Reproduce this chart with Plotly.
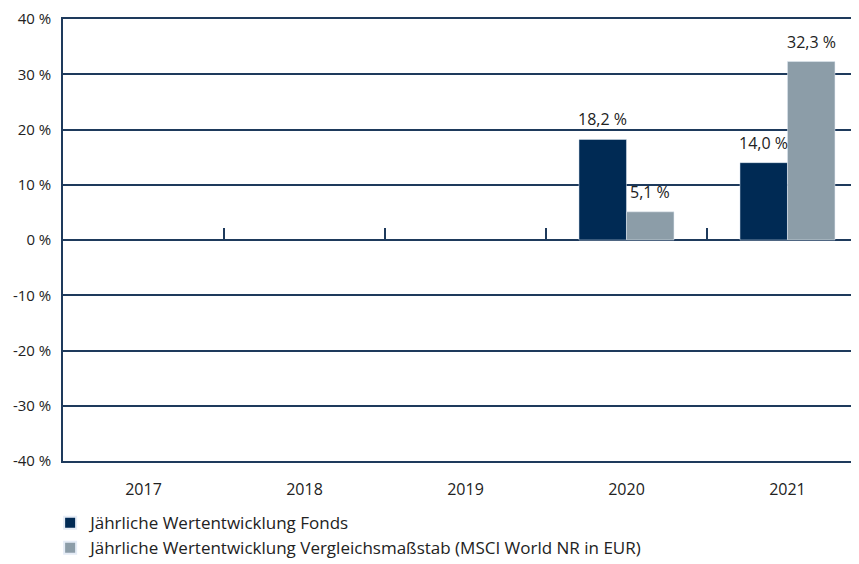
import plotly.graph_objects as go

years = ["2017", "2018", "2019", "2020", "2021"]
fonds = [None, None, None, 18.2, 14.0]
benchmark = [None, None, None, 5.1, 32.3]
tick_vals = [40, 30, 20, 10, 0, -10, -20, -30, -40]
tick_text = ["40 %", "30 %", "20 %", "10 %", "0 %", "-10 %", "-20 %", "-30 %", "-40 %"]
name_fonds = "Jährliche Wertentwicklung Fonds"
name_bench = "Jährliche Wertentwicklung Vergleichsmaßstab (MSCI World NR in EUR)"


def fmt(v):
    return f"{v:.1f}".replace(".", ",") + " %"


NAVY = "#002a54"
GREY = "#8c9da8"
LINE = "#1e3a5c"
FONT = "Open Sans"
BAR_HALF_PX = 23.7

fig = go.Figure()
fig.add_trace(go.Bar(x=years, y=fonds, name=name_fonds, marker_color=NAVY))
fig.add_trace(go.Bar(x=years, y=benchmark, name=name_bench, marker_color=GREY))
fig.add_trace(go.Scatter(x=years, y=[0] * len(years), mode="none", xaxis="x2",
                         showlegend=False, hoverinfo="skip"))

for series, shift in ((fonds, -BAR_HALF_PX), (benchmark, BAR_HALF_PX)):
    for idx, v in enumerate(series):
        if v is None:
            continue
        fig.add_annotation(x=idx, y=v, xref="x", yref="y", text=fmt(v),
                           showarrow=False, xshift=shift, yshift=7,
                           yanchor="bottom", font=dict(size=16, color="#222"))

fig.update_layout(
    width=859, height=564,
    margin=dict(l=55, r=0, t=11, b=111, autoexpand=False),
    paper_bgcolor="white", plot_bgcolor="white",
    font=dict(family=FONT, size=16, color="#222"),
    barmode="group", bargap=0.41, bargroupgap=0,
    xaxis=dict(type="category", categoryarray=years, range=[-0.5, 4.494],
               showgrid=False, showline=True, mirror=True, linecolor=LINE,
               linewidth=1.5, ticks="", zeroline=False, automargin=False,
               tickfont=dict(size=16), ticklabelstandoff=13),
    xaxis2=dict(type="category", matches="x", overlaying="x", anchor="free",
                position=0.5, side="bottom", showticklabels=False,
                ticks="inside", tickson="boundaries", ticklen=12,
                tickwidth=1.5, tickcolor=LINE, showline=False, showgrid=False,
                zeroline=False),
    yaxis=dict(range=[-40, 40], tickvals=tick_vals, ticktext=tick_text,
               showgrid=True, gridcolor=LINE, gridwidth=1.5,
               zeroline=True, zerolinecolor=LINE, zerolinewidth=1.5,
               showline=True, linecolor=LINE, linewidth=1.5, automargin=False,
               ticks="", ticklabelstandoff=7, tickfont=dict(size=15),
               ticklabeloverflow="allow"),
    legend=dict(orientation="v", x=-0.016, xanchor="left", y=-0.1,
                yanchor="top", font=dict(size=17), itemsizing="constant",
                tracegroupgap=0, traceorder="normal"),
    showlegend=True,
)

fig.write_html("out.html")
